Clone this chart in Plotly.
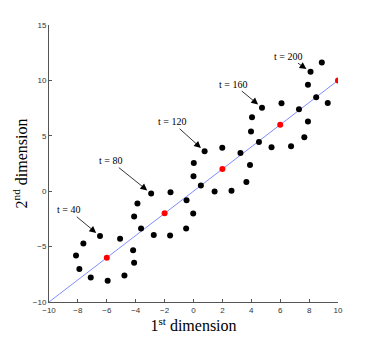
import plotly.graph_objects as go

# observed positions (black dots)
obs_x = [-8.13, -7.90, -7.62, -7.11, -6.47, -5.94, -5.08, -4.78, -4.18, -4.11,
         -4.11, -3.88, -3.63, -2.93, -2.75, -1.62, -1.59, -0.51, -0.48, -0.02,
         0.00, 0.02, 0.51, 0.77, 1.46, 1.99, 2.63, 3.25, 3.66, 3.91,
         3.98, 4.05, 4.53, 4.74, 5.40, 6.09, 6.75, 7.30, 7.67, 7.92,
         7.92, 8.10, 8.49, 8.88, 9.29]
obs_y = [-5.80, -7.03, -4.71, -7.78, -4.05, -8.08, -4.29, -7.60, -5.32, -6.46,
         -2.28, -1.11, -3.36, -0.21, -3.96, -3.99, -0.09, -3.36, -0.81, -2.01,
         1.35, 2.55, 0.51, 3.60, -0.03, 3.93, 0.03, 3.45, 0.84, 2.37,
         5.38, 6.67, 4.44, 7.54, 3.96, 7.93, 4.05, 7.39, 4.86, 6.28,
         9.61, 10.78, 8.47, 11.62, 7.96]

# true trajectory and marked true states
line_x = [-10, 10]
line_y = [-10, 10]
true_x = [-6, -2, 2, 6, 10]
true_y = [-6, -2, 2, 6, 10]

# time labels: text position and the observed point they point at
label_t = [40, 80, 120, 160, 200]
label_x = [-8.66, -5.77, -1.50, 2.75, 6.52]
label_y = [-1.68, 2.76, 6.27, 9.67, 12.19]
label_px = [-6.47, -2.93, 0.77, 4.74, 8.10]
label_py = [-4.05, -0.21, 3.60, 7.54, 10.78]

fig = go.Figure()

fig.add_trace(go.Scatter(
    x=line_x, y=line_y, mode="lines",
    line=dict(color="#7f8cff", width=1),
    hoverinfo="skip",
))

fig.add_trace(go.Scatter(
    x=obs_x, y=obs_y, mode="markers",
    marker=dict(color="black", size=6),
))

fig.add_trace(go.Scatter(
    x=true_x, y=true_y, mode="markers",
    marker=dict(color="#ff0000", size=6),
))

for t, tx, ty, px, py in zip(label_t, label_x, label_y, label_px, label_py):
    fig.add_annotation(
        x=px, y=py, ax=tx, ay=ty,
        xref="x", yref="y", axref="x", ayref="y",
        text=f"t = {t}",
        showarrow=True,
        arrowhead=2,
        arrowsize=1.7,
        arrowwidth=0.8,
        arrowcolor="black",
        standoff=5,
        font=dict(family="Liberation Serif", size=10, color="black"),
    )

axis_style = dict(
    automargin=False,
    showgrid=False,
    zeroline=False,
    showline=True,
    linecolor="#555555",
    linewidth=1,
    ticks="inside",
    ticklen=3,
    tickcolor="#555555",
    tickfont=dict(family="Liberation Sans", size=8, color="#333333"),
    title_font=dict(family="Liberation Serif", size=16, color="black"),
)

fig.update_xaxes(
    range=[-10, 10], dtick=2, tick0=-10,
    title_text="1<sup>st</sup> dimension", title_standoff=3,
    **axis_style,
)
fig.update_yaxes(
    range=[-10, 15], dtick=5, tick0=-10,
    title_text="2<sup>nd</sup> dimension", title_standoff=1,
    **axis_style,
)

# the page body keeps its default 8px margin, so the figure is sized to fit
fig.update_layout(
    width=366,
    height=332,
    margin=dict(l=41, r=36, t=17, b=38),
    plot_bgcolor="white",
    paper_bgcolor="white",
    showlegend=False,
)

fig.write_html("out.html")
